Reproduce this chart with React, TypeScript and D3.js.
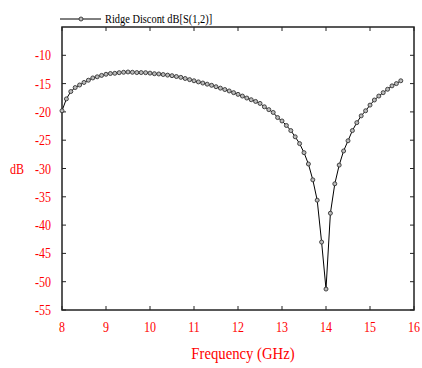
import React from "react";
import * as d3 from "d3";

const freqStart = 8.0;
const freqStep = 0.1;
const s12dB = [
  -19.8, -17.7, -16.4, -15.7, -15.25, -14.8, -14.4, -14.0, -13.8, -13.55,
  -13.35, -13.22, -13.18, -13.07, -13.0, -12.95, -13.0, -13.05, -13.05, -13.07,
  -13.15, -13.25, -13.3, -13.4, -13.5, -13.6, -13.75, -13.9, -14.1, -14.3,
  -14.5, -14.7, -14.9, -15.1, -15.3, -15.55, -15.8, -16.05, -16.3, -16.6,
  -16.9, -17.2, -17.55, -17.85, -18.15, -18.5, -19.1, -19.6, -20.1, -21.0,
  -21.6, -22.4, -23.3, -24.4, -25.6, -27.2, -29.2, -32.0, -35.6, -43.0,
  -51.3, -37.9, -32.7, -29.4, -26.9, -25.1, -23.3, -21.9, -20.7, -19.8,
  -18.8, -17.9, -17.2, -16.6, -16.0, -15.4, -15.0, -14.5,
];
const freqs = s12dB.map((_, i) => +(freqStart + i * freqStep).toFixed(1));
const xTicks = [8, 9, 10, 11, 12, 13, 14, 15, 16];
const yTicks = [-10, -15, -20, -25, -30, -35, -40, -45, -50, -55];
const legendLabel = "Ridge Discont dB[S(1,2)]";
const xTitle = "Frequency (GHz)";
const yTitle = "dB";

const W = 422;
const H = 368;
const L = 62, R = 414, T = 27, B = 310;
const FONT = "'Liberation Serif', 'Times New Roman', serif";

function CText({ x, y, anchor, size, sx, fill, children }: any) {
  return (
    <text
      transform={`translate(${x},${y}) scale(${sx},1)`}
      textAnchor={anchor}
      fontFamily={FONT}
      fontSize={size}
      fill={fill}
    >
      {children}
    </text>
  );
}

export default function App() {
  const x = d3.scaleLinear().domain([8, 16]).range([L, R]);
  const y = d3.scaleLinear().domain([-55, -5]).range([B, T]);
  const data = freqs.map((f, i) => [f, s12dB[i]] as [number, number]);
  const line = d3
    .line<[number, number]>()
    .x((d) => x(d[0]))
    .y((d) => y(d[1]));

  return (
    <svg
      width={W}
      height={H}
      style={{ position: "absolute", left: 0, top: 0, background: "#fff" }}
    >
      <rect x={0} y={0} width={W} height={H} fill="#fff" />
      {/* frame */}
      <rect x={L} y={T} width={R - L} height={B - T} fill="none" stroke="#222" strokeWidth={1.5} />
      {/* x ticks */}
      {xTicks.map((t) => (
        <g key={"x" + t}>
          <line x1={x(t)} x2={x(t)} y1={B} y2={B - 4} stroke="#222" strokeWidth={1} />
          <line x1={x(t)} x2={x(t)} y1={T} y2={T + 4} stroke="#222" strokeWidth={1} />
          <CText x={x(t)} y={B + 22} anchor="middle" size={15} sx={0.8} fill="#ff0000">
            {t}
          </CText>
        </g>
      ))}
      {/* y ticks */}
      {yTicks.map((t) => (
        <g key={"y" + t}>
          <line x1={L} x2={L + 4} y1={y(t)} y2={y(t)} stroke="#222" strokeWidth={1} />
          <line x1={R} x2={R - 4} y1={y(t)} y2={y(t)} stroke="#222" strokeWidth={1} />
          <CText x={51} y={y(t) + 5} anchor="end" size={15} sx={0.8} fill="#ff0000">
            {t}
          </CText>
        </g>
      ))}
      <CText x={17} y={y(-30) + 5} anchor="middle" size={15} sx={0.8} fill="#ff0000">
        {yTitle}
      </CText>
      <CText x={243} y={359} anchor="middle" size={16} sx={0.92} fill="#ff0000">
        {xTitle}
      </CText>
      {/* series */}
      <path d={line(data) || ""} fill="none" stroke="#000" strokeWidth={1} />
      {data.map((d, i) => (
        <circle
          key={i}
          cx={x(d[0])}
          cy={y(d[1])}
          r={2}
          fill="#bbb"
          stroke="#333"
          strokeWidth={0.9}
        />
      ))}
      {/* legend */}
      <line x1={60} x2={101} y1={19} y2={19} stroke="#000" strokeWidth={1} />
      <circle cx={81} cy={19} r={2} fill="#bbb" stroke="#333" strokeWidth={0.9} />
      <CText x={105} y={23} anchor="start" size={13} sx={0.8} fill="#000">
        {legendLabel}
      </CText>
    </svg>
  );
}
